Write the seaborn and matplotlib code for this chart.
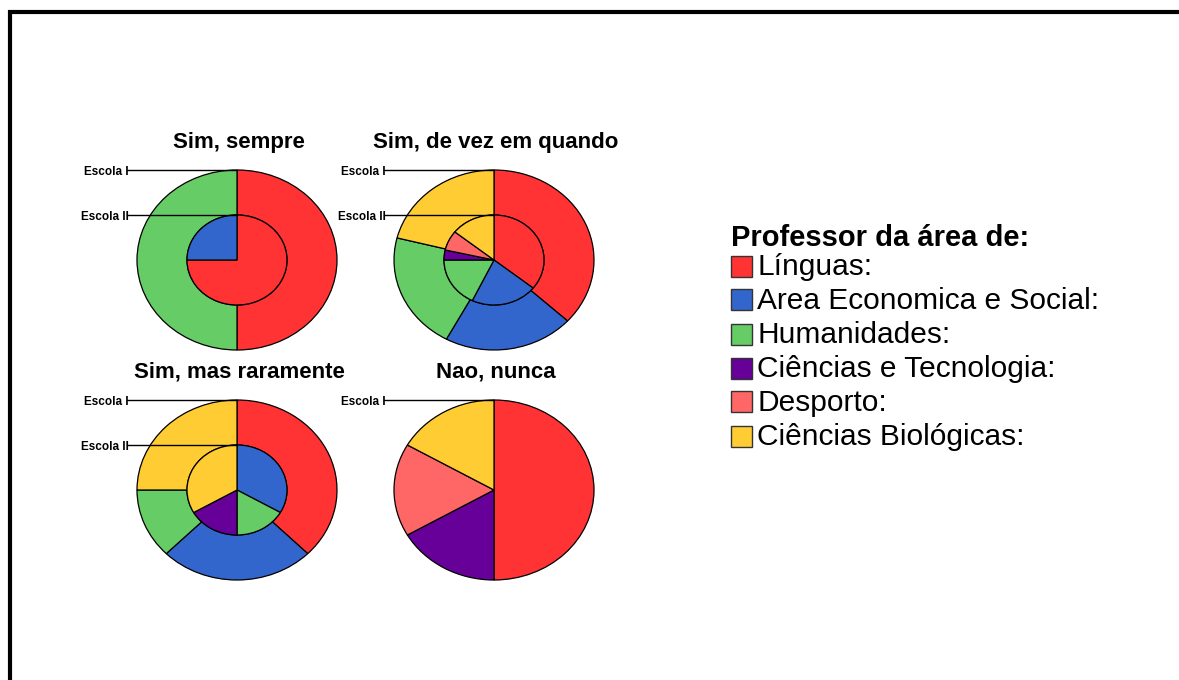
import matplotlib
matplotlib.use("Agg")
import matplotlib.pyplot as plt
import seaborn as sns
from matplotlib.patches import Rectangle
from matplotlib.lines import Line2D

sns.set_style("white")
plt.rcParams['font.family'] = ['Liberation Sans', 'DejaVu Sans']
plt.rcParams['text.color'] = 'black'

# --- data ---
areas = ["Línguas:", "Area Economica e Social:", "Humanidades:",
         "Ciências e Tecnologia:", "Desporto:", "Ciências Biológicas:"]
area_colors = ["#FF3333", "#3366CC", "#66CC66", "#660099", "#FF6666", "#FFCC33"]

panel_titles = ["Sim, sempre", "Sim, de vez em quando", "Sim, mas raramente", "Nao, nunca"]
escola_1 = [[1, 0, 1, 0, 0, 0],
            [7, 4, 4, 0, 0, 4],
            [3, 2, 1, 0, 0, 2],
            [3, 0, 0, 1, 1, 1]]
escola_2 = [[3, 1, 0, 0, 0, 0],
            [10, 6, 5, 1, 2, 4],
            [0, 2, 1, 1, 0, 2],
            None]
school_labels = ["Escola I", "Escola II"]

W, H = 1179, 680
fig = plt.figure(figsize=(W / 100, H / 100), dpi=100)

# pie centres in pixels (x, y from top)
centres = [(237, 260), (494, 260), (237, 490), (494, 490)]
rx, ry = 100, 90
lim = 1.05


def nonzero(vals):
    v = [x for x in vals if x > 0]
    c = [col for x, col in zip(vals, area_colors) if x > 0]
    return v, c


wp = dict(edgecolor="black", linewidth=0.9)
for i, (cx, cy) in enumerate(centres):
    ax = fig.add_axes([(cx - rx * lim) / W, (H - cy - ry * lim) / H,
                       2 * rx * lim / W, 2 * ry * lim / H])
    v1, c1 = nonzero(escola_1[i])
    if escola_2[i] is None:
        ax.pie(v1, colors=c1, radius=1, startangle=90, counterclock=False,
               wedgeprops=wp)
    else:
        ax.pie(v1, colors=c1, radius=1, startangle=90, counterclock=False,
               wedgeprops=dict(width=0.5, **wp))
        v2, c2 = nonzero(escola_2[i])
        ax.pie(v2, colors=c2, radius=0.5, startangle=90, counterclock=False,
               wedgeprops=wp)
    ax.set_aspect("auto")
    ax.set_xlim(-lim, lim)
    ax.set_ylim(-lim, lim)
    ax.axis("off")

    # school labels with leader lines
    tops = [1.0] if escola_2[i] is None else [1.0, 0.5]
    for lab, ytop in zip(school_labels, tops):
        ax.plot([-1.10, 0], [ytop, ytop], color="black", lw=1.0, clip_on=False)
        ax.text(-1.08, ytop - 0.02, lab, ha="right", va="center",
                fontsize=8.5, fontweight="bold", clip_on=False)

    ax.text(0.02, 1.31, panel_titles[i], ha="center", va="center",
            fontsize=16, fontweight="bold", clip_on=False)

# legend drawn by hand
fig.text(731 / W, 1 - 238 / H, "Professor da área de:", fontsize=21,
         fontweight="bold", ha="left", va="center")
row_y = 266
for lab, col in zip(areas, area_colors):
    fig.add_artist(Rectangle((731 / W, 1 - (row_y + 10.5) / H), 21 / W, 21 / H,
                             facecolor=col, edgecolor="#333333", lw=1.0,
                             transform=fig.transFigure))
    fig.text(757 / W, 1 - (row_y + 1) / H, lab, fontsize=21.5, ha="left", va="center")
    row_y += 34

# page frame (top and left)
fig.add_artist(Line2D([8 / W, 1.0], [1 - 12 / H, 1 - 12 / H], color="black",
                      lw=3, transform=fig.transFigure, solid_capstyle="butt"))
fig.add_artist(Line2D([10 / W, 10 / W], [0, 1 - 10 / H], color="black",
                      lw=3, transform=fig.transFigure, solid_capstyle="butt"))

fig.savefig("out.png", dpi=100, facecolor="white")
